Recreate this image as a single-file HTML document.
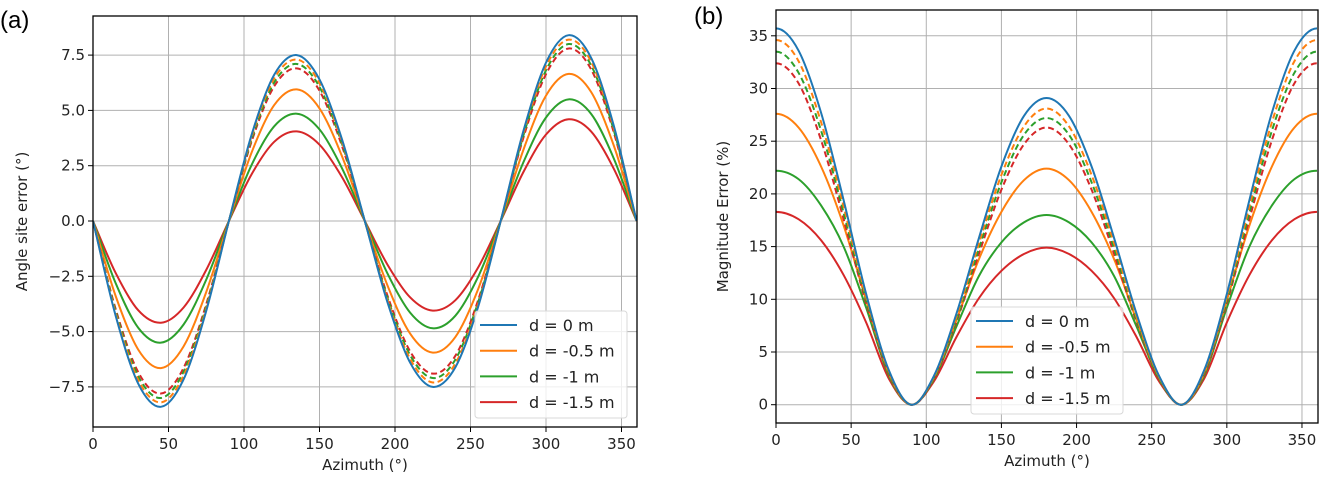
<!DOCTYPE html>
<html><head><meta charset="utf-8"><style>
html,body{margin:0;padding:0;background:#fff;}
svg{display:block;font-family:"DejaVu Sans","Liberation Sans",sans-serif;}
</style></head><body>
<svg id="fig" width="1320" height="479" xmlns="http://www.w3.org/2000/svg">
<defs>
<clipPath id="clipA"><rect x="93" y="16" width="544" height="411"/></clipPath>
<clipPath id="clipB"><rect x="776" y="10" width="542" height="413"/></clipPath>
</defs>
<text x="0" y="28" font-family="Liberation Sans, sans-serif" font-size="24">(a)</text>
<text x="694" y="24" font-family="Liberation Sans, sans-serif" font-size="24">(b)</text>
<g id="plotA"></g>
<g id="plotB"></g>
</svg>
<script>
const azimuth = [0,15,30,45,60,75,90,105,120,135,150,165,180,195,210,225,240,255,270,285,300,315,330,345,360];
const seriesLabels = ["d = 0 m","d = -0.5 m","d = -1 m","d = -1.5 m"];
// Panel (a): angle site error
const angleSolid0 = [0,-4.28,-7.36,-8.40,-7.16,-4.06,0,3.89,6.61,7.50,6.40,3.67,0,-3.67,-6.40,-7.50,-6.61,-3.89,0,4.06,7.16,8.40,7.36,4.28,0];
const angleDashOrange = [0,-4.18,-7.19,-8.20,-6.99,-3.96,0,3.79,6.44,7.30,6.23,3.57,0,-3.57,-6.23,-7.30,-6.44,-3.79,0,3.96,6.99,8.20,7.19,4.18,0];
const angleDashGreen = [0,-4.08,-7.02,-8.00,-6.81,-3.86,0,3.69,6.26,7.10,6.06,3.47,0,-3.47,-6.06,-7.10,-6.26,-3.69,0,3.86,6.81,8.00,7.02,4.08,0];
const angleDashRed = [0,-3.98,-6.84,-7.80,-6.64,-3.76,0,3.59,6.09,6.90,5.89,3.37,0,-3.37,-5.89,-6.90,-6.09,-3.59,0,3.76,6.64,7.80,6.84,3.98,0];
const angleSolid05 = [0,-3.39,-5.82,-6.65,-5.67,-3.21,0,3.09,5.24,5.95,5.09,2.91,0,-2.91,-5.09,-5.95,-5.24,-3.09,0,3.21,5.67,6.65,5.82,3.39,0];
const angleSolid1 = [0,-2.81,-4.83,-5.50,-4.68,-2.65,0,2.53,4.28,4.85,4.14,2.37,0,-2.37,-4.14,-4.85,-4.28,-2.53,0,2.65,4.68,5.50,4.83,2.81,0];
const angleSolid15 = [0,-2.35,-4.04,-4.60,-3.91,-2.21,0,2.11,3.58,4.05,3.45,1.97,0,-1.97,-3.45,-4.05,-3.58,-2.11,0,2.21,3.91,4.60,4.04,2.35,0];
const angleTicksY = [-7.5,-5.0,-2.5,0.0,2.5,5.0,7.5];
// Panel (b): magnitude error
const magSolid0 = [35.7,33.6,27.7,19.4,10.5,3.3,0,2.7,8.6,15.8,22.6,27.4,29.1,27.4,22.6,15.8,8.6,2.7,0,3.3,10.5,19.4,27.7,33.6,35.7];
const magDashOrange = [34.6,32.6,26.8,18.8,10.2,3.2,0,2.6,8.3,15.3,21.8,26.4,28.1,26.4,21.8,15.3,8.3,2.6,0,3.2,10.2,18.8,26.8,32.6,34.6];
const magDashGreen = [33.5,31.5,26.0,18.2,9.9,3.1,0,2.5,8.0,14.8,21.1,25.6,27.2,25.6,21.1,14.8,8.0,2.5,0,3.1,9.9,18.2,26.0,31.5,33.5];
const magDashRed = [32.4,30.5,25.1,17.6,9.6,3.0,0,2.4,7.8,14.3,20.4,24.7,26.3,24.7,20.4,14.3,7.8,2.4,0,3.0,9.6,17.6,25.1,30.5,32.4];
const magSolid05 = [27.6,26.3,22.6,17.0,9.9,3.0,0,2.6,8.0,13.8,18.3,21.3,22.4,21.3,18.3,13.8,8.0,2.6,0,3.0,9.9,17.0,22.6,26.3,27.6];
const magSolid1 = [22.2,21.4,18.9,15.0,9.2,2.8,0,2.4,7.4,12.2,15.4,17.3,18.0,17.3,15.4,12.2,7.4,2.4,0,2.8,9.2,15.0,18.9,21.4,22.2];
const magSolid15 = [18.3,17.6,15.6,12.3,7.8,2.5,0,2.2,6.4,10.1,12.7,14.3,14.9,14.3,12.7,10.1,6.4,2.2,0,2.5,7.8,12.3,15.6,17.6,18.3];
const magTicksY = [0,5,10,15,20,25,30,35];
const xTicks = [0,50,100,150,200,250,300,350];

const C = {blue:"#1f77b4",orange:"#ff7f0e",green:"#2ca02c",red:"#d62728"};
const NS="http://www.w3.org/2000/svg";
function mk(tag, attrs, parent){const e=document.createElementNS(NS,tag);for(const k in attrs)e.setAttribute(k,attrs[k]);parent.appendChild(e);return e;}
function smoothPath(xs, ys, sx, sy){
  const P=xs.map((x,i)=>[sx(x),sy(ys[i])]);
  const n=P.length;
  const span=P[n-1][0]-P[0][0];
  const periodic = ys[0]===ys[n-1];
  function pt(i){
    if(i<0){ if(periodic){const q=P[n-1+i];return [q[0]-span,q[1]];} return P[0]; }
    if(i>n-1){ if(periodic){const q=P[i-(n-1)];return [q[0]+span,q[1]];} return P[n-1]; }
    return P[i];
  }
  let d="M"+P[0][0].toFixed(2)+","+P[0][1].toFixed(2);
  for(let i=0;i<n-1;i++){
    const p0=pt(i-1),p1=P[i],p2=P[i+1],p3=pt(i+2);
    const c1=[p1[0]+(p2[0]-p0[0])/6,p1[1]+(p2[1]-p0[1])/6];
    const c2=[p2[0]-(p3[0]-p1[0])/6,p2[1]-(p3[1]-p1[1])/6];
    d+=" C"+c1[0].toFixed(2)+","+c1[1].toFixed(2)+" "+c2[0].toFixed(2)+","+c2[1].toFixed(2)+" "+p2[0].toFixed(2)+","+p2[1].toFixed(2);
  }
  return d;
}
function drawPanel(g, cfg){
  const sx=v=>cfg.x0+(v-0)*(cfg.x1-cfg.x0)/360;
  const sy=v=>cfg.yZero-v*cfg.pxPerUnit;
  xTicks.forEach(t=>{
    const l=mk("line",{x1:sx(t),x2:sx(t),y1:cfg.top,y2:cfg.bottom,stroke:"#b0b0b0","stroke-width":1},g);
    
    
    const tk=mk("line",{x1:sx(t),x2:sx(t),y1:cfg.bottom,y2:cfg.bottom+5,stroke:"#000","stroke-width":1},g);
    
    
    const tx=mk("text",{x:sx(t),y:cfg.bottom+22,"text-anchor":"middle","font-size":15,fill:"#222"},g);
    tx.textContent=String(t);
    
    
  });
  cfg.yTicks.forEach(t=>{
    const y=sy(t);
    const l=mk("line",{x1:cfg.x0,x2:cfg.right,y1:y,y2:y,stroke:"#b0b0b0","stroke-width":1},g);
    
    
    const tk=mk("line",{x1:cfg.x0-5,x2:cfg.x0,y1:y,y2:y,stroke:"#000","stroke-width":1},g);
    
    
    const tx=mk("text",{x:cfg.x0-8,y:y+5,"text-anchor":"end","font-size":15,fill:"#222"},g);
    tx.textContent=cfg.fmt(t);
    
    
  });
  const lines=mk("g",{"clip-path":"url(#"+cfg.clip+")"},g);
  
  
  cfg.series.forEach(s=>{
    const p=mk("path",{d:smoothPath(azimuth,s.data,sx,sy),fill:"none",stroke:s.color,"stroke-width":2,"stroke-dasharray":s.dash?"6,3.5":"none"},lines);
    
    
  });
  const fr=mk("rect",{x:cfg.x0,y:cfg.top,width:cfg.right-cfg.x0,height:cfg.bottom-cfg.top,fill:"none",stroke:"#000","stroke-width":1.3},g);
  
  
  const xl=mk("text",{x:(cfg.x0+cfg.right)/2,y:cfg.bottom+43,"text-anchor":"middle","font-size":15,fill:"#222"},g);
  xl.textContent="Azimuth (°)";
  
  
  const yl=mk("text",{x:0,y:0,"text-anchor":"middle","font-size":15,fill:"#222",transform:"translate("+cfg.yLabelX+","+((cfg.top+cfg.bottom)/2)+") rotate(-90)"},g);
  yl.textContent=cfg.yLabel;
  
  
  const lg=mk("g",{},g);
  
  
  const lb=mk("rect",{x:cfg.lx,y:cfg.ly,width:152,height:107,rx:3,fill:"rgba(255,255,255,0.8)",stroke:"#d8d8d8","stroke-width":1},lg);
  
  
  [C.blue,C.orange,C.green,C.red].forEach((col,i)=>{
    const y=cfg.ly+14+i*25.7;
    const ll=mk("line",{x1:cfg.lx+5,x2:cfg.lx+42,y1:y,y2:y,stroke:col,"stroke-width":2},lg);
    
    
    const lt=mk("text",{x:cfg.lx+54,y:y+6,"font-size":16,fill:"#222"},lg);
    lt.textContent=seriesLabels[i];
    
    
  });
}
drawPanel(document.getElementById("plotA"),{
  x0:93,x1:636.6,right:637,top:16,bottom:427,yZero:221,pxPerUnit:22.12,clip:"clipA",
  yTicks:angleTicksY,fmt:t=>t.toFixed(1).replace("-","\u2212"),yLabel:"Angle site error (°)",yLabelX:27,
  lx:475,ly:311,
  series:[
    {data:angleSolid15,color:C.red,dash:false,name:"line-a-solid-d-1-5"},
    {data:angleSolid1,color:C.green,dash:false,name:"line-a-solid-d-1"},
    {data:angleSolid05,color:C.orange,dash:false,name:"line-a-solid-d-0-5"},
    {data:angleDashRed,color:C.red,dash:true,name:"line-a-dashed-red"},
    {data:angleDashGreen,color:C.green,dash:true,name:"line-a-dashed-green"},
    {data:angleDashOrange,color:C.orange,dash:true,name:"line-a-dashed-orange"},
    {data:angleSolid0,color:C.blue,dash:false,name:"line-a-solid-d-0"}
  ]
});
drawPanel(document.getElementById("plotB"),{
  x0:776,x1:1317,right:1318,top:10,bottom:423,yZero:404.7,pxPerUnit:10.54,clip:"clipB",
  yTicks:magTicksY,fmt:t=>String(t),yLabel:"Magnitude Error (%)",yLabelX:728,
  lx:971,ly:307,
  series:[
    {data:magSolid15,color:C.red,dash:false,name:"line-b-solid-d-1-5"},
    {data:magSolid1,color:C.green,dash:false,name:"line-b-solid-d-1"},
    {data:magSolid05,color:C.orange,dash:false,name:"line-b-solid-d-0-5"},
    {data:magDashRed,color:C.red,dash:true,name:"line-b-dashed-red"},
    {data:magDashGreen,color:C.green,dash:true,name:"line-b-dashed-green"},
    {data:magDashOrange,color:C.orange,dash:true,name:"line-b-dashed-orange"},
    {data:magSolid0,color:C.blue,dash:false,name:"line-b-solid-d-0"}
  ]
});
</script>
</body></html>
